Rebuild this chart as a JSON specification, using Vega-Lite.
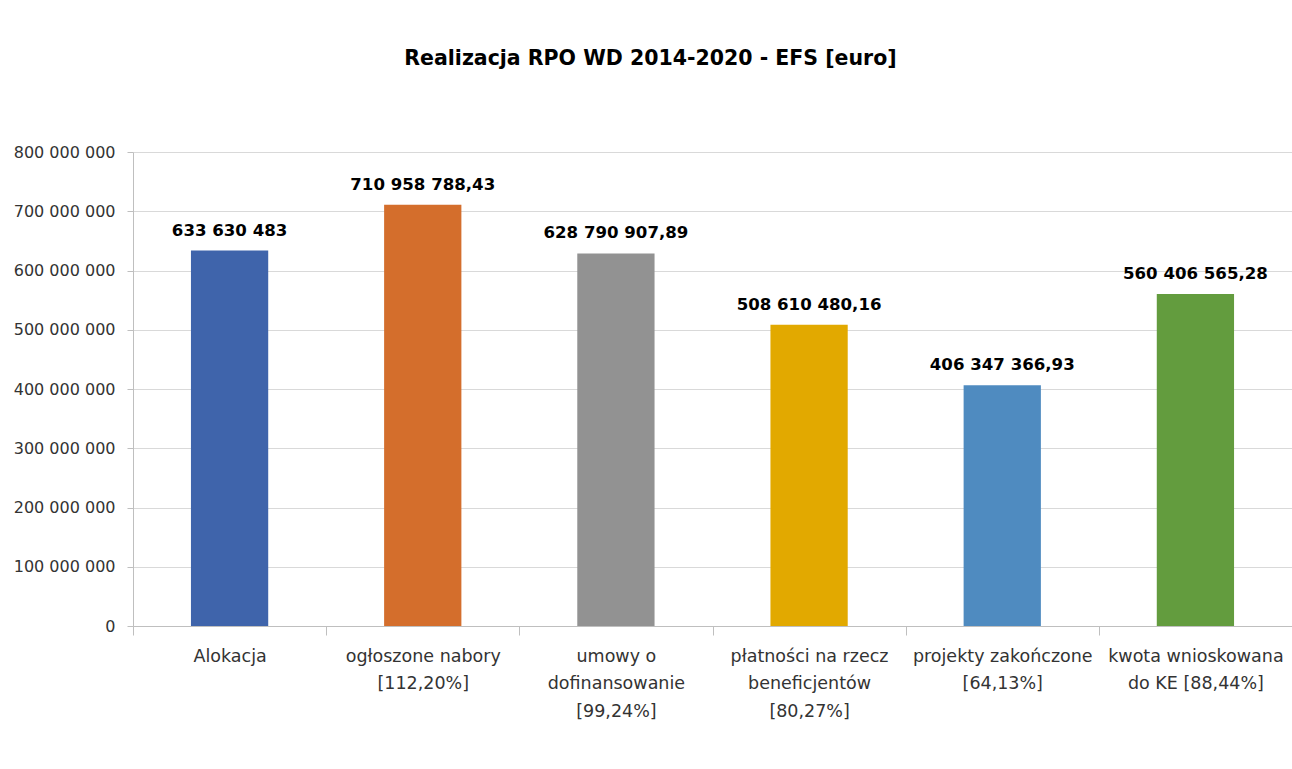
{
  "$schema": "https://vega.github.io/schema/vega-lite/v6.json",
  "width": 1159,
  "height": 474,
  "autosize": {"type": "none"},
  "padding": {"left": 133, "top": 152, "right": 0, "bottom": 143},
  "background": "white",
  "config": {
    "locale": {"number": {"decimal": ",", "thousands": " ", "grouping": [3], "currency": ["", ""]}},
    "view": {"stroke": null},
    "font": "DejaVu Sans"
  },
  "title": {
    "text": "Realizacja RPO WD 2014-2020 - EFS  [euro]",
    "fontSize": 20.5,
    "fontWeight": "bold",
    "color": "#000000",
    "anchor": "middle",
    "dx": -62,
    "offset": 75
  },
  "data": {
    "values": [
      {"cat": "Alokacja", "value": 633630483},
      {"cat": "ogłoszone nabory|[112,20%]", "value": 710958788.43},
      {"cat": "umowy o|dofinansowanie|[99,24%]", "value": 628790907.89},
      {"cat": "płatności na rzecz|beneficjentów|[80,27%]", "value": 508610480.16},
      {"cat": "projekty zakończone|[64,13%]", "value": 406347366.93},
      {"cat": "kwota wnioskowana|do KE [88,44%]", "value": 560406565.28}
    ]
  },
  "transform": [
    {"calculate": "datum.value % 1 == 0 ? format(datum.value, ',d') : format(datum.value, ',.2f')", "as": "lbl"}
  ],
  "encoding": {
    "x": {
      "field": "cat",
      "type": "nominal",
      "sort": null,
      "scale": {"paddingInner": 0, "paddingOuter": 0},
      "axis": {
        "title": null,
        "labelExpr": "split(datum.label, '|')",
        "labelAngle": 0,
        "labelOverlap": false,
        "labelLimit": 0,
        "labelFontSize": 17.5,
        "labelColor": "#333333",
        "labelLineHeight": 27.5,
        "labelPadding": 12,
        "labelBaseline": "top",
        "tickBand": "extent",
        "tickSize": 9,
        "tickColor": "#BFBFBF",
        "domainColor": "#BFBFBF",
        "grid": false
      }
    },
    "y": {
      "field": "value",
      "type": "quantitative",
      "scale": {"domain": [0, 800000000], "nice": false},
      "axis": {
        "title": null,
        "values": [0, 100000000, 200000000, 300000000, 400000000, 500000000, 600000000, 700000000, 800000000],
        "format": ",d",
        "labelFontSize": 16,
        "labelColor": "#333333",
        "labelPadding": 12,
        "tickSize": 6,
        "tickColor": "#BFBFBF",
        "domainColor": "#BFBFBF",
        "gridColor": "#D9D9D9"
      }
    }
  },
  "layer": [
    {
      "mark": {"type": "bar", "width": {"band": 0.4}},
      "encoding": {
        "color": {
          "field": "cat",
          "type": "nominal",
          "legend": null,
          "scale": {
            "domain": ["Alokacja", "ogłoszone nabory|[112,20%]", "umowy o|dofinansowanie|[99,24%]", "płatności na rzecz|beneficjentów|[80,27%]", "projekty zakończone|[64,13%]", "kwota wnioskowana|do KE [88,44%]"],
            "range": ["#3F64AB", "#D46E2C", "#929292", "#E2A900", "#4F8BC0", "#639C3E"]
          }
        }
      }
    },
    {
      "mark": {"type": "text", "baseline": "alphabetic", "dy": -15, "fontWeight": "bold", "fontSize": 16.6, "color": "#000000"},
      "encoding": {"text": {"field": "lbl", "type": "nominal"}}
    }
  ]
}
